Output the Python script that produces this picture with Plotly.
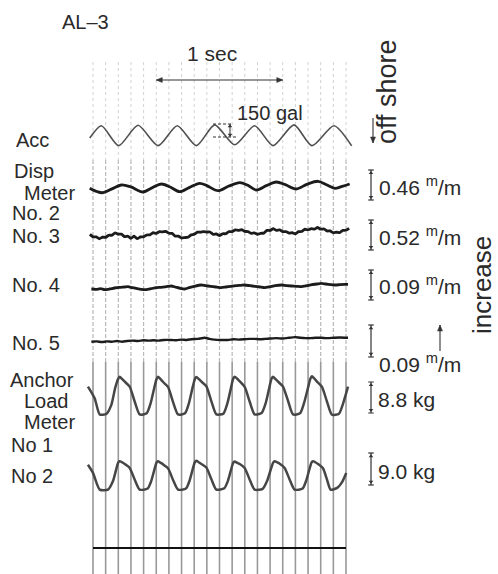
import plotly.graph_objects as go

W, H = 498, 574
T0_PX = 93.0        # pixel column of t = 0 s
PX_PER_S = 126.5    # paper speed, pixels per second

# ---------------- data ----------------
# timing marks every 0.1 s
time_marks = [0.0, 0.1, 0.2, 0.3, 0.4, 0.5, 0.6, 0.7, 0.8, 0.9, 1.0,
              1.1, 1.2, 1.3, 1.4, 1.5, 1.6, 1.7, 1.8, 1.9, 2.0]
one_second = [0.5, 1.5]

# acceleration record (gal)
acc_t = [-0.026, 0.066, 0.203, 0.356, 0.514, 0.666, 0.817, 0.962, 1.120,
         1.278, 1.423, 1.589, 1.731, 1.905, 2.045]
acc_gal = [-27, 115, -115, 120, -115, 115, -115, 125, -105,
           115, -115, 125, -115, 115, -118]
acc_scale_gal = 150

# displacement meter No.2 (mm)
disp2_t = [-0.026, 0.030, 0.079, 0.150, 0.224, 0.300, 0.395, 0.470, 0.540,
           0.610, 0.685, 0.760, 0.843, 0.900, 0.988, 1.070, 1.160, 1.220,
           1.291, 1.370, 1.449, 1.520, 1.607, 1.690, 1.779, 1.850, 1.911,
           1.970, 2.029]
disp2_mm = [-0.050, -0.100, -0.118, -0.060, 0.000, -0.030, -0.107, -0.040,
            0.015, -0.030, -0.103, -0.040, 0.026, -0.010, -0.087, -0.020,
            0.035, 0.000, -0.077, -0.010, 0.046, 0.005, -0.061, 0.010, 0.057,
            0.000, -0.051, -0.020, 0.015]

# displacement meter No.3 (mm)
no3_t = [-0.025, 0.000, 0.025, 0.050, 0.075, 0.100, 0.125, 0.150, 0.175,
         0.200, 0.225, 0.250, 0.275, 0.300, 0.325, 0.350, 0.375, 0.400,
         0.425, 0.450, 0.475, 0.500, 0.525, 0.550, 0.575, 0.600, 0.625,
         0.650, 0.675, 0.700, 0.725, 0.750, 0.775, 0.800, 0.825, 0.850,
         0.875, 0.900, 0.925, 0.950, 0.975, 1.000, 1.025, 1.050, 1.075,
         1.100, 1.125, 1.150, 1.175, 1.200, 1.225, 1.250, 1.275, 1.300,
         1.325, 1.350, 1.375, 1.400, 1.425, 1.450, 1.475, 1.500, 1.525,
         1.550, 1.575, 1.600, 1.625, 1.650, 1.675, 1.700, 1.725, 1.750,
         1.775, 1.800, 1.825, 1.850, 1.875, 1.900, 1.925, 1.950, 1.975,
         2.000, 2.025]
no3_mm = [0.010, -0.032, -0.032, -0.065, -0.038, -0.040, -0.004, -0.004,
          0.038, 0.014, 0.015, -0.030, -0.018, -0.058, -0.020, -0.064,
          -0.034, -0.032, 0.000, 0.002, 0.040, 0.028, 0.058, 0.054, 0.062,
          0.030, 0.028, -0.020, -0.020, -0.052, -0.044, -0.040, 0.002,
          0.012, 0.050, 0.048, 0.060, 0.052, 0.052, 0.010, 0.018, -0.010,
          0.022, 0.022, 0.060, 0.058, 0.088, 0.080, 0.092, 0.062, 0.060,
          0.028, 0.038, 0.010, 0.030, 0.032, 0.080, 0.078, 0.108, 0.080,
          0.090, 0.058, 0.060, 0.032, 0.040, 0.020, 0.058, 0.060, 0.100,
          0.088, 0.110, 0.102, 0.130, 0.100, 0.108, 0.070, 0.070, 0.038,
          0.048, 0.040, 0.080, 0.082, 0.116]

# displacement meter No.4 (mm)
no4_t = [-0.013, 0.025, 0.060, 0.092, 0.130, 0.170, 0.210, 0.250, 0.277,
         0.310, 0.350, 0.380, 0.421, 0.460, 0.500, 0.540, 0.580, 0.619,
         0.650, 0.690, 0.725, 0.760, 0.800, 0.856, 0.890, 0.930, 0.970,
         1.014, 1.050, 1.090, 1.130, 1.170, 1.199, 1.240, 1.280, 1.320,
         1.357, 1.400, 1.440, 1.489, 1.530, 1.570, 1.610, 1.647, 1.690,
         1.730, 1.770, 1.805, 1.840, 1.880, 1.911, 1.950, 1.990, 2.016]
no4_mm = [-0.012, -0.013, -0.011, -0.014, -0.012, -0.009, -0.007, -0.006,
          -0.005, -0.008, -0.011, -0.013, -0.014, -0.011, -0.008, -0.007,
          -0.005, -0.003, -0.006, -0.010, -0.012, -0.008, -0.004, 0.000,
          -0.002, -0.004, -0.006, -0.008, -0.006, -0.004, -0.002, -0.001,
          0.000, -0.002, -0.004, -0.006, -0.008, -0.005, -0.002, 0.000,
          -0.002, -0.003, -0.004, -0.005, -0.002, 0.001, 0.003, 0.005,
          0.003, 0.001, 0.000, 0.001, 0.002, 0.002]

# displacement meter No.5 (mm)
no5_t = [-0.013, 0.030, 0.070, 0.110, 0.150, 0.190, 0.230, 0.270, 0.310,
         0.356, 0.400, 0.440, 0.480, 0.520, 0.560, 0.619, 0.660, 0.700,
         0.740, 0.780, 0.830, 0.883, 0.920, 0.960, 1.010, 1.067, 1.110,
         1.150, 1.200, 1.240, 1.278, 1.320, 1.360, 1.400, 1.450, 1.500,
         1.550, 1.594, 1.640, 1.680, 1.720, 1.760, 1.805, 1.850, 1.900,
         1.950, 2.016]
no5_mm = [-0.002, -0.001, -0.003, -0.001, -0.002, 0.000, -0.002, 0.000,
          0.001, 0.000, 0.002, 0.001, 0.002, 0.001, 0.003, 0.003, 0.002,
          0.004, 0.003, 0.005, 0.006, 0.009, 0.006, 0.004, 0.003, 0.003,
          0.005, 0.004, 0.005, 0.006, 0.006, 0.005, 0.006, 0.007, 0.008,
          0.007, 0.009, 0.011, 0.009, 0.008, 0.008, 0.009, 0.009, 0.008,
          0.009, 0.010, 0.009]
disp_scales_mm = [0.46, 0.52, 0.09, 0.09]

# anchor load meter No.1 (kg)
anc1_t = [-0.040, 0.013, 0.053, 0.105, 0.145, 0.176,
          0.199, 0.211, 0.229, 0.251, 0.290, 0.330, 0.369, 0.424, 0.456, 0.484,
          0.502, 0.514, 0.532, 0.554, 0.593, 0.633, 0.672, 0.727, 0.759, 0.787,
          0.805, 0.817, 0.835, 0.857, 0.896, 0.936, 0.975, 1.030, 1.062, 1.090,
          1.108, 1.120, 1.138, 1.160, 1.199, 1.239, 1.278, 1.333, 1.365, 1.393,
          1.411, 1.423, 1.441, 1.463, 1.502, 1.542, 1.581, 1.636, 1.668, 1.700,
          1.719, 1.731, 1.749, 1.771, 1.810, 1.850, 1.889, 1.944, 1.976, 2.016]
anc1_kg = [3.1, -0.2, -4.8, -4.7, -2.1, 2.8,
           5.3, 5.9, 5.3, 4.5, 3.1, -1.2, -4.8, -4.5, -1.6, 2.7,
           5.2, 5.9, 5.3, 4.4, 3.0, -1.3, -4.8, -4.5, -1.5, 2.8,
           5.2, 5.8, 5.3, 4.5, 3.2, -1.1, -4.8, -4.6, -1.7, 2.6,
           5.3, 5.9, 5.4, 4.6, 3.0, -1.2, -4.8, -4.4, -1.6, 2.7,
           5.3, 5.9, 5.3, 4.5, 3.1, -1.0, -4.8, -4.5, -1.6, 2.8,
           5.4, 6.0, 5.4, 4.5, 3.0, -1.2, -4.9, -4.6, -1.8, 3.1]

# anchor load meter No.2 (kg)
anc2_t = [-0.040, 0.000, 0.053, 0.119, 0.158,
          0.199, 0.211, 0.229, 0.251, 0.290, 0.330, 0.369, 0.432, 0.460,
          0.502, 0.514, 0.532, 0.554, 0.593, 0.633, 0.672, 0.735, 0.763,
          0.805, 0.817, 0.835, 0.857, 0.896, 0.936, 0.975, 1.038, 1.066,
          1.108, 1.120, 1.138, 1.160, 1.199, 1.239, 1.278, 1.341, 1.376,
          1.424, 1.436, 1.454, 1.476, 1.515, 1.555, 1.594, 1.657, 1.685,
          1.727, 1.739, 1.757, 1.779, 1.818, 1.850, 1.878, 1.930, 1.970,
          2.002]
anc2_kg = [1.2, -1.1, -5.8, -5.8, -3.4,
           1.8, 2.2, 1.9, 1.4, 0.3, -3.0, -5.8, -5.5, -3.4,
           1.8, 2.2, 1.8, 1.3, 0.2, -3.1, -5.8, -5.5, -3.3,
           1.9, 2.3, 1.9, 1.4, 0.4, -2.9, -5.8, -5.4, -3.4,
           1.7, 2.1, 1.8, 1.4, 0.3, -3.0, -5.8, -5.6, -3.4,
           1.8, 2.2, 1.9, 1.5, 0.3, -3.0, -5.8, -5.5, -3.3,
           1.8, 2.2, 1.9, 1.4, 0.2, -3.0, -5.8, -5.3, -3.6,
           -1.1]
anchor_scales_kg = [8.8, 9.0]

# ---------------- layout helpers ----------------
def px_t(xpx):
    return (xpx - T0_PX) / PX_PER_S

def t_px(t):
    return T0_PX + t * PX_PER_S

def py(ypx):
    return 1 - ypx / H

def px(xpx):
    return xpx / W

HALF = 45  # half height of each channel band in pixels

# (axis id, baseline pixel row, pixel height of calibration bar, bar value)
channels = [
    ("y",  135.7, 13, acc_scale_gal),
    ("y2", 185.0, 30, disp_scales_mm[0]),
    ("y3", 235.0, 30, disp_scales_mm[1]),
    ("y4", 285.0, 30, disp_scales_mm[2]),
    ("y5", 341.0, 32, disp_scales_mm[3]),
    ("y6", 397.5, 31, anchor_scales_kg[0]),
    ("y7", 469.0, 32, anchor_scales_kg[1]),
]

fig = go.Figure()
axes = {}
for i, (ax, yc, bpx, val) in enumerate(channels):
    k = bpx / val
    name = "yaxis" if i == 0 else f"yaxis{i + 1}"
    axes[name] = dict(domain=[1 - (yc + HALF) / H, 1 - (yc - HALF) / H],
                      range=[-HALF / k, HALF / k], visible=False,
                      fixedrange=True, anchor="x")

INK = "#1c1c1c"
GREY_INK = "#464646"

def trace(t, v, ax, color, width, smooth=0.9):
    fig.add_trace(go.Scatter(x=t, y=v, yaxis=ax, xaxis="x", mode="lines",
                             line=dict(color=color, width=width,
                                       shape="spline", smoothing=smooth),
                             hoverinfo="skip", showlegend=False))

trace(acc_t, acc_gal, "y", "#505050", 1.6, 0.7)
trace(disp2_t, disp2_mm, "y2", INK, 2.8)
trace(no3_t, no3_mm, "y3", INK, 2.8, 0.3)
trace(no4_t, no4_mm, "y4", INK, 2.8, 0.5)
trace(no5_t, no5_mm, "y5", INK, 2.4, 0.5)
trace(anc1_t, anc1_kg, "y6", GREY_INK, 2.5, 0.6)
trace(anc2_t, anc2_kg, "y7", GREY_INK, 2.5, 0.6)

# calibration bars on the right
tb = px_t(371)
cap = 0.022
for ax, yc, bpx, val in channels[1:]:
    h = val / 2
    fig.add_trace(go.Scatter(
        x=[tb - cap, tb + cap, None, tb, tb, None, tb - cap, tb + cap],
        y=[h, h, None, h, -h, None, -h, -h],
        yaxis=ax, mode="lines", line=dict(color="#333", width=1.2),
        hoverinfo="skip", showlegend=False))
    fig.add_trace(go.Scatter(
        x=[tb, tb], y=[h * 0.8, -h * 0.8], yaxis=ax, mode="markers",
        marker=dict(symbol=["triangle-up", "triangle-down"], size=4,
                    color="#333"),
        hoverinfo="skip", showlegend=False))

# 150 gal calibration mark on the acceleration trace
g_top = 135
g_bot = g_top - acc_scale_gal
fig.add_trace(go.Scatter(
    x=[px_t(213), px_t(232), None, px_t(213), px_t(238)],
    y=[g_top, g_top, None, g_bot, g_bot], yaxis="y", mode="lines",
    line=dict(color="#333", width=1, dash="3px,2px"),
    hoverinfo="skip", showlegend=False))
fig.add_trace(go.Scatter(
    x=[px_t(230), px_t(230)], y=[g_top, g_bot], yaxis="y", mode="lines",
    line=dict(color="#333", width=1), hoverinfo="skip", showlegend=False))
fig.add_trace(go.Scatter(
    x=[px_t(230), px_t(230)], y=[g_top - 25, g_bot + 25], yaxis="y",
    mode="markers", marker=dict(symbol=["triangle-up", "triangle-down"],
                                size=4, color="#333"),
    hoverinfo="skip", showlegend=False))

# timing marks, drawn in three bands of decreasing faintness upward
shapes = []
for t in time_marks:
    shapes.append(dict(type="line", xref="x", yref="paper", x0=t, x1=t,
                       y0=py(62), y1=py(160), layer="below",
                       line=dict(color="#d2d2d2", width=1, dash="dot")))
    shapes.append(dict(type="line", xref="x", yref="paper", x0=t, x1=t,
                       y0=py(160), y1=py(362), layer="below",
                       line=dict(color="#b8b8b8", width=1.2, dash="4px,2px")))
    shapes.append(dict(type="line", xref="x", yref="paper", x0=t, x1=t,
                       y0=py(362), y1=py(574), layer="below",
                       line=dict(color="#999999", width=1.6)))
# reference line below the records
shapes.append(dict(type="line", xref="x", yref="paper",
                   x0=time_marks[0], x1=time_marks[-1], y0=py(548), y1=py(548),
                   line=dict(color="#111", width=2)))


def arrow(x0, y0, x1, y1):
    """Straight arrow in pixel space, head at (x1, y1)."""
    shapes.append(dict(type="line", xref="paper", yref="paper",
                       x0=px(x0), y0=py(y0), x1=px(x1), y1=py(y1),
                       line=dict(color="#333", width=1.1)))
    dx, dy = x1 - x0, y1 - y0
    n = (dx * dx + dy * dy) ** 0.5
    ux, uy = dx / n, dy / n
    bx, by = x1 - 6 * ux, y1 - 6 * uy
    lx, ly = bx - 2.5 * uy, by + 2.5 * ux
    rx, ry = bx + 2.5 * uy, by - 2.5 * ux
    path = (f"M {px(x1)},{py(y1)} L {px(lx)},{py(ly)} "
            f"L {px(rx)},{py(ry)} Z")
    shapes.append(dict(type="path", xref="paper", yref="paper", path=path,
                       fillcolor="#333", line=dict(color="#333", width=0.5)))


# one-second bar with arrowheads at both ends
mid = t_px(sum(one_second) / 2)
arrow(mid, 80, t_px(one_second[0]), 80)
arrow(mid, 80, t_px(one_second[1]), 80)
arrow(373, 118, 373, 143)     # off-shore direction
arrow(440, 351, 440, 325)     # increase direction

FONT = "Liberation Sans"
TXT = "#2a2a2a"
ann = []

def label(text, xpx, ypx, size=20, anchor="left", angle=0):
    ann.append(dict(text=text, x=px(xpx), y=py(ypx), xref="paper",
                    yref="paper", showarrow=False, xanchor=anchor,
                    yanchor="middle", textangle=angle,
                    font=dict(family=FONT, size=size, color=TXT)))

label("AL–3", 60, 22, 20)
label("1 sec", 212, 53, 21, "center")
label("150 gal", 235, 113, 20)

for text, x, y in [("Acc", 14, 140), ("Disp", 12, 171), ("Meter", 22, 193),
                   ("No. 2", 10, 213), ("No. 3", 10, 236), ("No. 4", 10, 285),
                   ("No. 5", 10, 343), ("Anchor", 8, 380), ("Load", 22, 401),
                   ("Meter", 22, 422), ("No 1", 9, 445), ("No 2", 9, 476)]:
    label(text, x, y, 20)

disp_label_rows = [186, 236, 285, 363]
for v, row in zip(disp_scales_mm, disp_label_rows):
    label(f"{v:.2f} <sup>m</sup>/m", 377, row, 21)
for v, row in zip(anchor_scales_kg, [399, 471]):
    label(f"{v:.1f} kg", 376, row, 21)

label("off shore", 387, 92, 27, "center", -90)
label("increase", 482, 285, 26, "center", -90)

fig.update_layout(
    width=W, height=H, margin=dict(l=0, r=0, t=0, b=0),
    paper_bgcolor="white", plot_bgcolor="rgba(0,0,0,0)",
    xaxis=dict(range=[px_t(0), px_t(W)], visible=False, fixedrange=True),
    shapes=shapes, annotations=ann, showlegend=False,
    **axes,
)

fig.write_html("out.html", config={"displayModeBar": False})
